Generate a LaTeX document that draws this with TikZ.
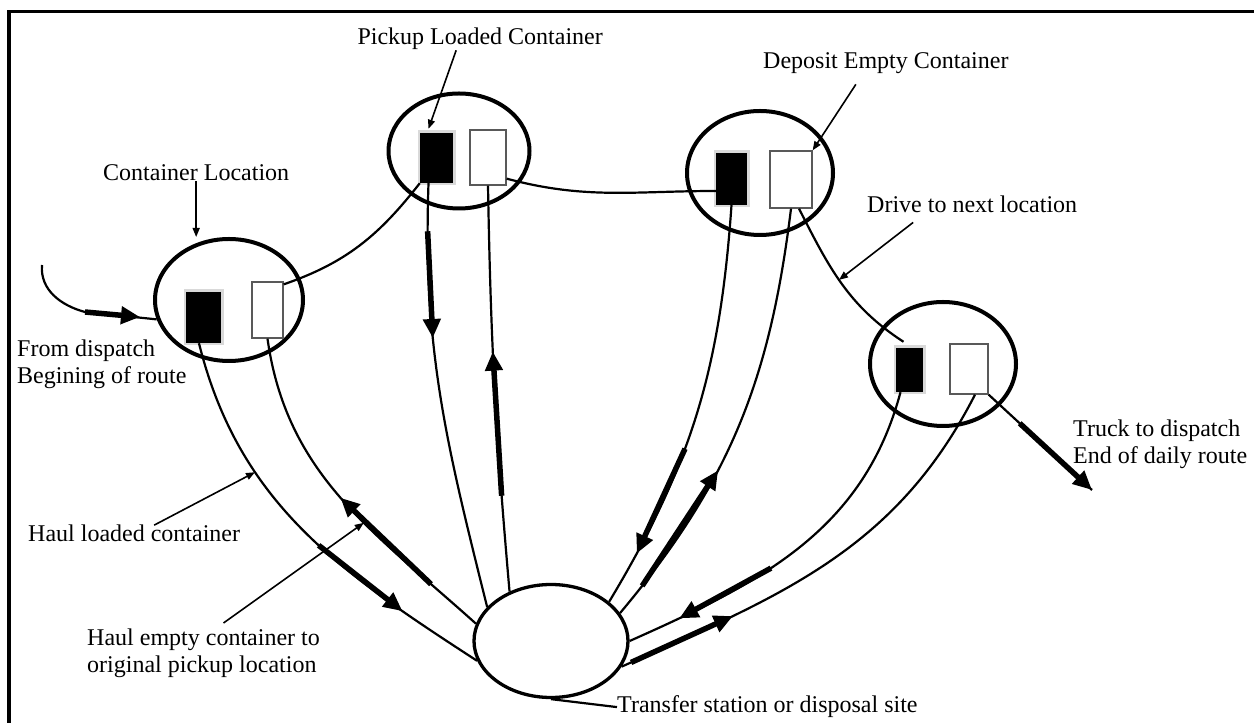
\documentclass[tikz,border=0pt]{standalone}
\usepackage{fontspec}
\setmainfont{Liberation Serif}
\usetikzlibrary{shapes.geometric,arrows.meta}

\begin{document}
\begin{tikzpicture}[x=1pt,y=1pt,
	site/.style={ellipse,draw,line width=4pt,inner sep=0pt},
	full/.style={rectangle,fill=black,inner sep=0pt,preaction={draw=black!15,line width=5pt}},
	empty/.style={rectangle,draw=black!65,fill=white,line width=1.3pt,inner sep=0pt},
	route/.style={line width=2.2pt},
	haul/.style={line width=5.5pt,-{Triangle[length=19pt,width=17pt]}},
	lead/.style={line width=1.6pt,-{Triangle[length=9pt,width=7pt]}},
	lbl/.style={inner sep=0pt,font=\fontsize{24}{27}\selectfont}]
	\useasboundingbox (0,0) rectangle (1254,723);
	\draw[line width=3.3pt] (9,0) -- (9,711.3) -- (1254,711.3);

	\node[site,minimum width=148pt,minimum height=122pt] (sa) at (229,423) {};
	\node[site,minimum width=141pt,minimum height=115pt] (sb) at (459,572) {};
	\node[site,minimum width=146pt,minimum height=124pt] (sc) at (760,550) {};
	\node[site,minimum width=146pt,minimum height=124pt] (sd) at (943,359) {};
	\node[site,line width=3.3pt,minimum width=154pt,minimum height=113pt] (ts) at (551,82) {};

	\node[full,minimum width=35pt,minimum height=51pt] (ab) at (203.5,405.5) {};
	\node[empty,minimum width=31pt,minimum height=56pt] (aw) at (267.5,413) {};
	\node[full,minimum width=33pt,minimum height=50pt] (bb) at (436.5,565) {};
	\node[empty,minimum width=36pt,minimum height=55pt] (bw) at (488,565.5) {};
	\node[full,minimum width=31pt,minimum height=52pt] (cb) at (731.5,544) {};
	\node[empty,minimum width=42pt,minimum height=57pt] (cw) at (791,543.5) {};
	\node[full,minimum width=27pt,minimum height=44pt] (db) at (909.5,353) {};
	\node[empty,minimum width=38pt,minimum height=50pt] (dw) at (969,354) {};

	\coordinate (src) at (42,458);
	\coordinate (src1) at (85,411);
	\coordinate (src2) at (140,406);
	\coordinate (truck) at (1092,233);

	\draw[route] (src) to[out=-95,in=165] (src1) -- (sa.195);
	\draw[haul] (src1) -- (src2);
	\draw[route] ([yshift=-3pt]aw.north east) to[out=19,in=232] (bb.south west);
	\draw[route] ([yshift=7pt]bw.south east) to[out=-15,in=180] ([yshift=-12pt]cb.west);
	\draw[route] ([xshift=8pt]cw.south) to[out=-63,in=147] coordinate[pos=.47] (cd) ([shift={(-6pt,6pt)}]db.north);
	\draw[route] (dw.south east) -- coordinate[pos=.3] (t1) (truck);
	\draw[haul] (t1) -- (truck);

	\draw[route] (ab.-100) to[out=-76,in=147] coordinate[pos=.32] (ha) coordinate[pos=.56] (a1s) coordinate[pos=.81] (a1e) (ts.195);
	\draw[haul] (a1s) -- (a1e);
	\draw[route] (aw.south) to[out=-82,in=138] coordinate[pos=.5] (a2s) coordinate[pos=.6] (he) coordinate[pos=.85] (a2e) (ts.167);
	\draw[haul] (a2e) -- (a2s);
	\draw[route] ([xshift=-8pt]bb.south) to[out=-92,in=104] coordinate[pos=.1] (b1s) coordinate[pos=.35] (b1e) (ts.152);
	\draw[haul] (b1s) -- (b1e);
	\draw[route] (bw.south) to[out=-89,in=95] coordinate[pos=.4] (b2s) coordinate[pos=.78] (b2e) (ts.130);
	\draw[haul] (b2e) -- (b2s);
	\draw[route] (cb.south) to[out=-94,in=59] coordinate[pos=.6] (c1s) coordinate[pos=.88] (c1e) (ts.34);
	\draw[haul] (c1s) -- (c1e);
	\draw[route] (cw.south) to[out=-97,in=50] coordinate[pos=.62] (c2s) coordinate[pos=.93] (c2e) (ts.22);
	\draw[haul] (c2e) -- (c2s);
	\draw[route] ([xshift=-9pt]db.south) to[out=-105,in=24] coordinate[pos=.6] (d1s) coordinate[pos=.87] (d1e) (ts.0);
	\draw[haul] (d1s) -- (d1e);
	\draw[route] ([xshift=6pt]dw.south) to[out=-117,in=24] coordinate[pos=.75] (d2s) coordinate[pos=.98] (d2e) (ts.-20);
	\draw[haul] (d2e) -- (d2s);

	\node[lbl,anchor=base west] (cloc) at (103,542) {Container Location};
	\node[lbl,anchor=base east] (ploc) at (603,678) {Pickup Loaded Container};
	\node[lbl,anchor=base west] (dloc) at (763,654) {Deposit Empty Container};
	\node[lbl,anchor=base west] (drive) at (867,510) {Drive to next location};
	\node[lbl,anchor=north west,align=left] (start) at (17,383) {From dispatch\\Begining of route};
	\node[lbl,anchor=north west,align=left] (finish) at (1073,303) {Truck to dispatch\\End of daily route};
	\node[lbl,anchor=base west] (hload) at (28,181) {Haul loaded container};
	\node[lbl,anchor=north west,align=left] (hempty) at (87,94) {Haul empty container to\\original pickup location};
	\node[lbl,anchor=base west] (tlbl) at (617,10) {Transfer station or disposal site};

	\draw[lead] (cloc.south) -- (cloc.south |- sa.north);
	\draw[lead] ([xshift=-24pt]ploc.south) -- ([shift={(-8pt,4pt)}]bb.north);
	\draw[lead] ([shift={(-30pt,-10pt)}]dloc.south) -- (cw.north east);
	\draw[lead] ([shift={(-59pt,-9pt)}]drive.south) -- (cd);
	\draw[lead] ([xshift=20pt]hload.north) -- (ha);
	\draw[lead] ([shift={(20pt,6pt)}]hempty.north) -- (he);
	\draw[line width=2.2pt] (ts.-90) -- (tlbl.west);
\end{tikzpicture}
\end{document}
